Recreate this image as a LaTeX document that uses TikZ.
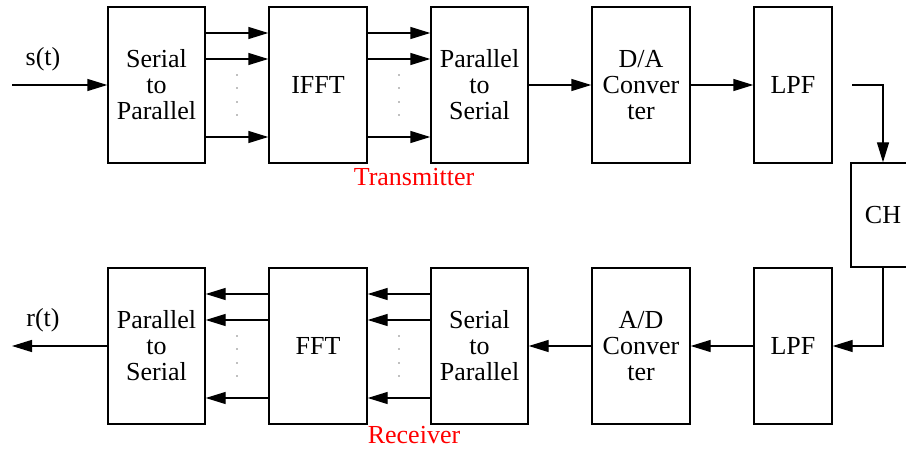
\documentclass[tikz,border=0pt]{standalone}
\usepackage{fontspec}
\setmainfont{Liberation Serif}
\usetikzlibrary{arrows.meta,calc}
\begin{document}
\begin{tikzpicture}[x=1pt,y=1pt,
  blk/.style={draw,line width=1.4pt,align=center,font=\fontsize{26}{26}\selectfont,inner sep=0pt},
  tall/.style={blk,minimum height=156pt},
  arr/.style={line width=1.4pt,-{Triangle[length=20pt,width=12pt]}},
  lbl/.style={font=\fontsize{26}{26}\selectfont,inner sep=0pt},
  red lbl/.style={font=\fontsize{26}{26}\selectfont,text=red,inner sep=0pt},
  dotmark/.style={fill=gray,draw=none,circle,inner sep=0pt,minimum size=1.6pt}]
\useasboundingbox (0,0) rectangle (906,448);
\clip (0,0) rectangle (906,448);
% transmitter row
\node[tall,minimum width=97pt] (sp1) at (156.5,363) {Serial\\to\\Parallel};
\node[tall,minimum width=98pt] (ifft) at (318,363) {IFFT};
\node[tall,minimum width=97pt] (ps1) at (479.5,363) {Parallel\\to\\Serial};
\node[tall,minimum width=98pt] (da) at (641,363) {D/A\\Conver\\ter};
\node[tall,minimum width=78pt] (lpf1) at (793,363) {LPF};
% channel
\node[blk,minimum width=64pt,minimum height=104pt] (ch) at (883,233) {CH};
% receiver row
\node[tall,minimum width=97pt] (ps2) at (156.5,102) {Parallel\\to\\Serial};
\node[tall,minimum width=98pt] (fft) at (318,102) {FFT};
\node[tall,minimum width=97pt] (sp2) at (479.5,102) {Serial\\to\\Parallel};
\node[tall,minimum width=98pt] (ad) at (641,102) {A/D\\Conver\\ter};
\node[tall,minimum width=78pt] (lpf2) at (793,102) {LPF};
% labels
\node[lbl] (st) at (43,389) {s(t)};
\node[lbl] (rt) at (43,128) {r(t)};
\node[red lbl] (tx) at (414,271) {Transmitter};
\node[red lbl] (rx) at (414,12.5) {Receiver};
% free ends
\coordinate (in) at (12,363);
\coordinate (out) at (12,102);
\coordinate (c1) at (852,363);
% connectors
\draw[arr] (in) -- (sp1.west);
\foreach \dy in {52,26,-52}{
  \draw[arr] ($(sp1.east)+(0,\dy)$) -- ($(ifft.west)+(0,\dy)$);
  \draw[arr] ($(ifft.east)+(0,\dy)$) -- ($(ps1.west)+(0,\dy)$);
  \draw[arr] ($(sp2.west)+(0,\dy)$) -- ($(fft.east)+(0,\dy)$);
  \draw[arr] ($(fft.west)+(0,\dy)$) -- ($(ps2.east)+(0,\dy)$);
}
\foreach \dy in {10,-3,-17,-30}{
  \node[dotmark] at ($(sp1.east)!0.5!(ifft.west)+(0,\dy)$) {};
  \node[dotmark] at ($(ifft.east)!0.5!(ps1.west)+(0,\dy)$) {};
  \node[dotmark] at ($(ps2.east)!0.5!(fft.west)+(0,\dy)$) {};
  \node[dotmark] at ($(fft.east)!0.5!(sp2.west)+(0,\dy)$) {};
}
\draw[arr] (ps1.east) -- (da.west);
\draw[arr] (da.east) -- (lpf1.west);
\draw[arr] (c1) -| (ch.north);
\draw[arr] (ch.south) |- (lpf2.east);
\draw[arr] (lpf2.west) -- (ad.east);
\draw[arr] (ad.west) -- (sp2.east);
\draw[arr] (ps2.west) -- (out);
\end{tikzpicture}
\end{document}
